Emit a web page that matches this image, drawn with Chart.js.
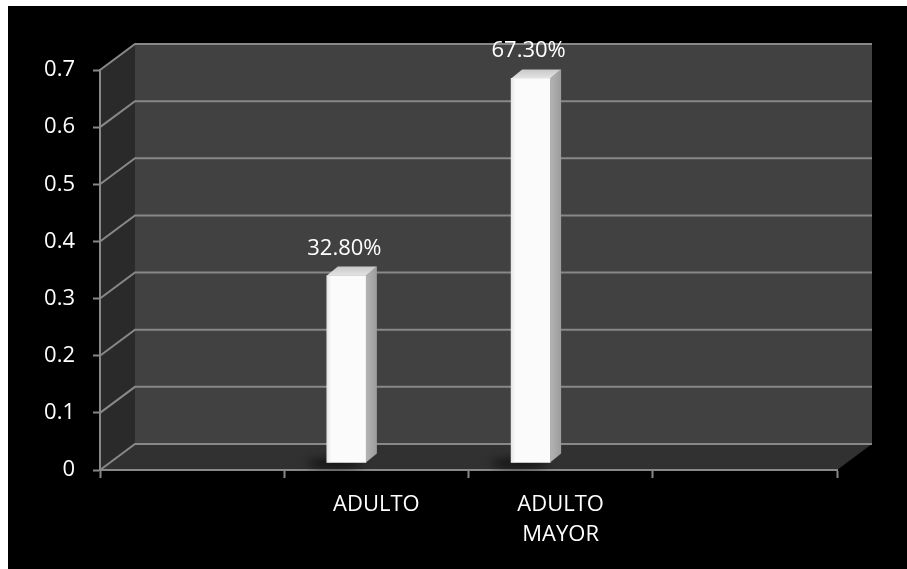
<!DOCTYPE html>
<html><head><meta charset="utf-8">
<script src="https://cdn.jsdelivr.net/npm/chart.js@4"></script>
<style>
html,body{margin:0;padding:0;background:#fff;width:907px;height:569px;overflow:hidden}
#wrap{position:absolute;left:8px;top:6px;width:899px;height:563px;background:#000}
canvas{display:block}
</style></head><body>
<div id="wrap"><canvas id="c" width="899" height="563"></canvas></div>
<script>
const categories = ['', 'ADULTO', ['ADULTO', 'MAYOR'], ''];
const values = [null, 0.328, 0.673, null];
const yTickLabels = ['0', '0.1', '0.2', '0.3', '0.4', '0.5', '0.6', '0.7'];

const FONT = "'Open Sans', 'DejaVu Sans', sans-serif";
const WALL = {dx: 35, dy: -26};
const BAR_SHIFT = {dx: -30, dy: -7};
const BAR_DEPTH = {dx: 11, dy: -9};
const LINE = '#888888';

function poly(ctx, pts) {
  ctx.beginPath();
  ctx.moveTo(pts[0][0], pts[0][1]);
  for (let i = 1; i < pts.length; i++) ctx.lineTo(pts[i][0], pts[i][1]);
  ctx.closePath();
  ctx.fill();
}

const threeD = {
  id: 'threeD',
  beforeDraw(chart) {
    const {ctx, scales: {x, y}} = chart;
    const L = x.left, R = x.right, T = y.top, B = y.bottom;
    const dx = WALL.dx, dy = WALL.dy;
    ctx.save();
    ctx.fillStyle = '#2a2a2a';
    poly(ctx, [[L, B], [L + dx, B + dy], [L + dx, T + dy], [L, T]]);
    ctx.fillStyle = '#414141';
    ctx.fillRect(L + dx, T + dy, R - L, B - T);
    ctx.fillStyle = '#313131';
    poly(ctx, [[L, B], [R, B], [R + dx, B + dy], [L + dx, B + dy]]);
    ctx.strokeStyle = LINE;
    ctx.lineWidth = 2;
    y.ticks.forEach((t, i) => {
      const py = y.getPixelForTick(i);
      ctx.beginPath();
      ctx.moveTo(L, py);
      ctx.lineTo(L + dx, py + dy);
      ctx.lineTo(R + dx, py + dy);
      ctx.stroke();
    });
    ctx.restore();
  },
  beforeDatasetsDraw(chart) {
    const ctx = chart.ctx;
    ctx.save();
    ctx.translate(BAR_SHIFT.dx, BAR_SHIFT.dy);
    const meta = chart.getDatasetMeta(0);
    meta.data.forEach((bar, i) => {
      if (values[i] == null) return;
      const p = bar.getProps(['x', 'y', 'base', 'width'], true);
      ctx.save();
      ctx.fillStyle = 'rgba(0,0,0,0.75)';
      ctx.filter = 'blur(5px)';
      ctx.beginPath();
      ctx.ellipse(p.x - p.width / 2 + 8, p.base + 1, 28, 4, 0, 0, Math.PI * 2);
      ctx.fill();
      ctx.restore();
    });
  },
  afterDatasetsDraw(chart) {
    const ctx = chart.ctx;
    const meta = chart.getDatasetMeta(0);
    const bdx = BAR_DEPTH.dx, bdy = BAR_DEPTH.dy;
    meta.data.forEach((bar, i) => {
      if (values[i] == null) return;
      const p = bar.getProps(['x', 'y', 'base', 'width'], true);
      const l = p.x - p.width / 2, r = p.x + p.width / 2;
      const gs = ctx.createLinearGradient(r, 0, r + bdx, 0);
      gs.addColorStop(0, '#b4b4b4');
      gs.addColorStop(1, '#9c9c9c');
      ctx.fillStyle = gs;
      poly(ctx, [[r, p.y], [r + bdx, p.y + bdy], [r + bdx, p.base + bdy], [r, p.base]]);
      const gt = ctx.createLinearGradient(0, p.y + bdy, 0, p.y);
      gt.addColorStop(0, '#c8c8c8');
      gt.addColorStop(1, '#e4e4e4');
      ctx.fillStyle = gt;
      poly(ctx, [[l, p.y], [r, p.y], [r + bdx, p.y + bdy], [l + bdx, p.y + bdy]]);
      const gf = ctx.createLinearGradient(l, 0, l + 6, 0);
      gf.addColorStop(0, 'rgba(200,200,200,0.5)');
      gf.addColorStop(1, 'rgba(255,255,255,0)');
      ctx.fillStyle = gf;
      ctx.fillRect(l, p.y, 6, p.base - p.y);
    });
    ctx.restore();
    ctx.save();
    ctx.fillStyle = '#ffffff';
    ctx.font = '22px ' + FONT;
    ctx.textAlign = 'center';
    ctx.textBaseline = 'alphabetic';
    meta.data.forEach((bar, i) => {
      if (values[i] == null) return;
      const txt = (values[i] * 100).toFixed(2) + '%';
      ctx.fillText(txt, bar.x + BAR_SHIFT.dx - 2, bar.y + BAR_SHIFT.dy - 21);
    });
    ctx.restore();
  }
};

new Chart(document.getElementById('c'), {
  type: 'bar',
  data: {
    labels: categories,
    datasets: [{
      data: values,
      backgroundColor: '#fbfbfb',
      borderWidth: 0,
      barThickness: 39
    }]
  },
  options: {
    responsive: false,
    animation: false,
    devicePixelRatio: 1,
    layout: {padding: {top: 64, right: 70, left: 0, bottom: 0}},
    plugins: {legend: {display: false}, tooltip: {enabled: false}, title: {display: false}},
    scales: {
      x: {
        offset: true,
        grid: {offset: true, drawOnChartArea: false, drawTicks: true, tickLength: 8, tickColor: LINE, tickWidth: 2},
        border: {display: true, color: LINE, width: 2},
        ticks: {color: '#ffffff', font: {family: FONT, size: 22, lineHeight: 1.36}, padding: 12, maxRotation: 0, autoSkip: false},
        afterFit(s) { s.height = 99; }
      },
      y: {
        min: 0, max: 0.7,
        grid: {drawOnChartArea: false, drawTicks: true, tickLength: 7, tickColor: LINE, tickWidth: 2},
        border: {display: true, color: LINE, width: 2},
        ticks: {
          stepSize: 0.1, color: '#ffffff', padding: 18,
          font: {family: FONT, size: 22},
          callback: v => yTickLabels[Math.round(v * 10)]
        },
        afterFit(s) { s.width = 92; }
      }
    }
  },
  plugins: [threeD]
});
</script>
</body></html>
